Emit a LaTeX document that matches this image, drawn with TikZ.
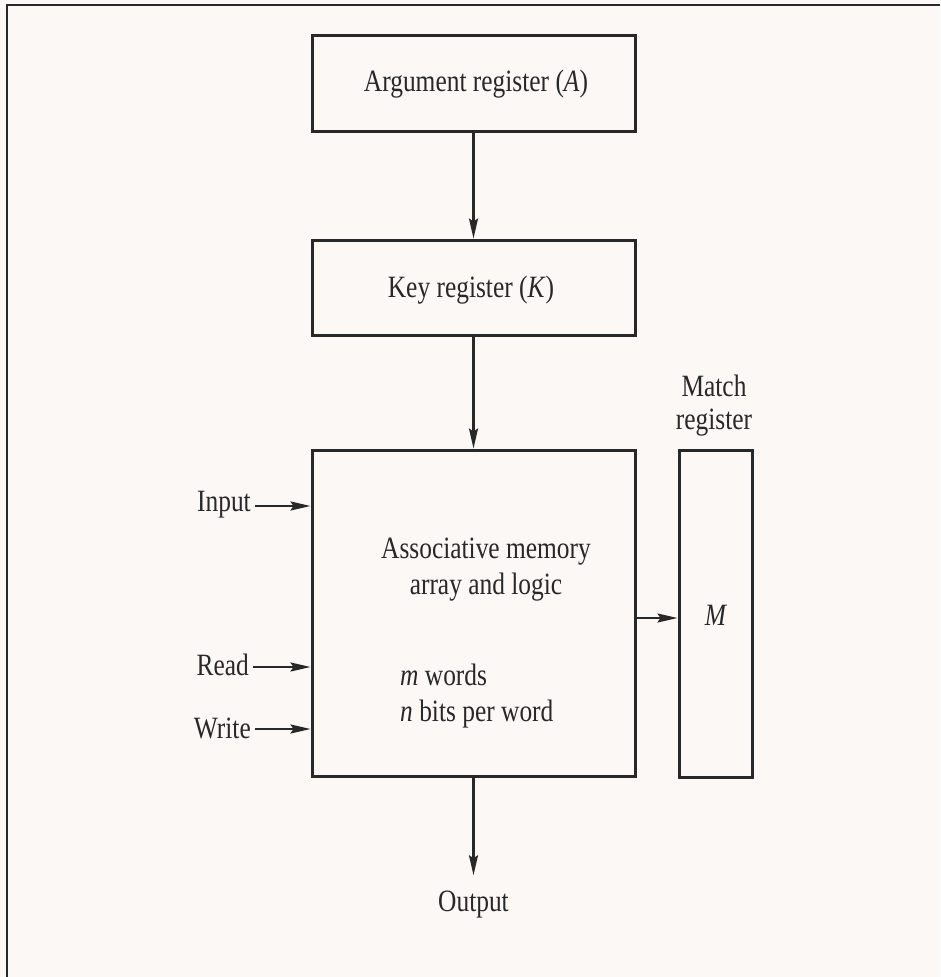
\documentclass[tikz,border=0pt]{standalone}
\usepackage{fontspec}
\setmainfont{Liberation Serif}[FakeStretch=0.82]
\usetikzlibrary{arrows.meta}
\definecolor{bg}{RGB}{251,248,245}
\definecolor{ink}{RGB}{40,40,40}
\begin{document}
\begin{tikzpicture}[x=1pt,y=-1pt,
  box/.style={draw=ink,line width=3pt,inner sep=0pt},
  lbl/.style={text=ink,font=\fontsize{31}{36}\selectfont,inner sep=0pt},
  conn/.style={draw=ink,line width=2.2pt,-{Stealth[length=20pt,width=9pt,inset=3pt]}}]
\fill[bg] (0,0) rectangle (940,977);
\useasboundingbox (0,0) rectangle (940,977);
\draw[ink,line width=2.2pt] (7,977) -- (7,5) -- (940,5);

\node[box,minimum width=323pt,minimum height=96pt] (arg) at (473.5,83) {};
\node[lbl] (argt) at (476,84) {Argument register (\textit{A})};

\node[box,minimum width=323pt,minimum height=95pt] (key) at (473.5,287.5) {};
\node[lbl] (keyt) at (471,290) {Key register (\textit{K})};

\node[box,minimum width=323pt,minimum height=326pt] (asc) at (473.5,613) {};
\node[lbl,align=center] (asct) at (486,570) {Associative memory\\array and logic};
\node[lbl,align=left,anchor=west] (words) at (400,696) {\textit{m} words\\\textit{n} bits per word};

\node[box,minimum width=73pt,minimum height=327pt] (match) at (715.5,613.5) {};
\node[lbl,align=center,font=\fontsize{31}{33}\selectfont] (matcht) at (714,406) {Match\\register};
\node[lbl] (mt) at (716,615) {\textit{M}};

\node[lbl,anchor=east] (inp) at (251,505) {Input};
\node[lbl,anchor=east] (rd) at (249,665) {Read};
\node[lbl,anchor=east] (wr) at (251,728) {Write};
\node[lbl] (out) at (473.5,905) {Output};

\draw[conn] (arg.south) -- (key.north);
\draw[conn] (key.south) -- (asc.north);
\draw[conn,shorten >=16pt] (asc.south) -- (out.north);
\draw[conn] ([xshift=4pt,yshift=-1pt]inp.east) -- ([yshift=-1pt]inp.east -| asc.west);
\draw[conn] ([xshift=4pt,yshift=-2pt]rd.east) -- ([yshift=-2pt]rd.east -| asc.west);
\draw[conn] ([xshift=4pt,yshift=-1pt]wr.east) -- ([yshift=-1pt]wr.east -| asc.west);
\draw[conn] ([yshift=-5pt]asc.east) -- ([yshift=-5pt]asc.east -| match.west);
\end{tikzpicture}
\end{document}
